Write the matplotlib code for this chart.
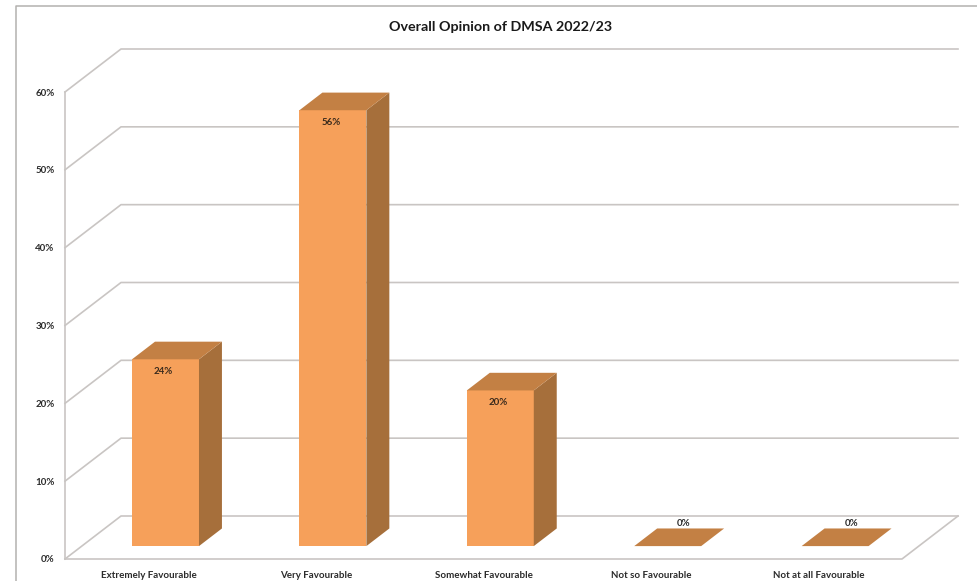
import matplotlib
matplotlib.use("Agg")
from matplotlib import pyplot as plt
from matplotlib.patches import Polygon
from matplotlib.lines import Line2D

categorias = ["Extremely Favourable", "Very Favourable", "Somewhat Favourable",
              "Not so Favourable", "Not at all Favourable"]
valores = [24, 56, 20, 0, 0]
ticks = [0, 10, 20, 30, 40, 50, 60]
titulo = "Overall Opinion of DMSA 2022/23"

W, H = 977, 581
plt.rcParams['font.family'] = ['Lato', 'DejaVu Sans']

# Profundidad del piso, en unidades de cada eje
profX = 56/((902-65)/5)
profY = 43/((559-92)/60)
anchoBarra = 0.40
frenteBarra = 0.30
fondoBarra = 0.71

GRIS = "#c9c5c3"
NARANJA = "#f6a05a"
TAPA = "#c38044"
LADO = "#a66f3b"
TEXTO = "#2b2b2b"

def proyectar(x, y, d):
  return x+d*profX, y+d*profY

figure = plt.figure(figsize=(W/100, H/100), dpi=100, facecolor="white")
axes = figure.add_axes([65/W, 1-559/H, (902-65)/W, (559-92)/H])
axes.set_xlim(0, 5)
axes.set_ylim(0, 60)
axes.patch.set_visible(False)
for lado in axes.spines.values():
  lado.set_visible(False)

# Marco exterior
figure.add_artist(Line2D([16/W, 16/W, 1], [0, 1-5.5/H, 1-5.5/H], color="#b3b1af", lw=1.1))

# Rejilla: diagonal en la pared izquierda y linea horizontal al fondo
for t in ticks:
  p0 = proyectar(0, t, 0)
  p1 = proyectar(0, t, 1)
  p2 = proyectar(5, t, 1)
  axes.plot([p0[0], p1[0], p2[0]], [p0[1], p1[1], p2[1]], color=GRIS, lw=1.2, clip_on=False, zorder=1)

# Piso y eje vertical
p3 = proyectar(5, 0, 1)
axes.plot([0, 5, p3[0]], [0, 0, p3[1]], color=GRIS, lw=1.2, clip_on=False, zorder=1)
axes.plot([0, 0], [0, 60], color=GRIS, lw=1.2, clip_on=False, zorder=1)

# Barras en perspectiva: cara frontal, lado derecho y tapa
for i, v in enumerate(valores):
  izq = i+0.5-anchoBarra/2
  der = i+0.5+anchoBarra/2
  a = proyectar(izq, v, frenteBarra)
  b = proyectar(der, v, frenteBarra)
  c = proyectar(der, v, fondoBarra)
  d = proyectar(izq, v, fondoBarra)
  e = proyectar(der, 0, frenteBarra)
  f = proyectar(der, 0, fondoBarra)
  g = proyectar(izq, 0, frenteBarra)
  if v > 0:
    axes.add_patch(Polygon([g, e, b, a], color=NARANJA, lw=0, zorder=3))
    axes.add_patch(Polygon([e, f, c, b], color=LADO, lw=0, zorder=3))
  axes.add_patch(Polygon([a, b, c, d], color=TAPA, lw=0, zorder=3))
  centro = (a[0]+b[0])/2
  if v > 0:
    axes.annotate(f"{v}%", (centro, a[1]), xytext=(-1.5, -9), textcoords="offset points", ha="center", va="center",
                  fontsize=7, fontweight="bold", color="#3a2a1c", zorder=4)
  else:
    axes.annotate(f"{v}%", ((c[0]+d[0])/2, c[1]), xytext=(-5, 0), textcoords="offset points", ha="center", va="bottom",
                  fontsize=7, fontweight="bold", color=TEXTO, zorder=4)

axes.set_xticks([i+0.5 for i in range(len(categorias))], categorias)
axes.set_yticks(ticks, [f"{t}%" for t in ticks])
axes.tick_params(axis="both", length=0, labelsize=7, labelcolor=TEXTO)
axes.tick_params(axis="x", pad=8.5)
axes.tick_params(axis="y", pad=7.5)
for etiqueta in axes.get_xticklabels()+axes.get_yticklabels():
  etiqueta.set_fontweight("bold")

figure.text(500.5/W, 1-27/H, titulo, ha="center", va="center", fontsize=10.3, fontweight="bold", color="#1a1a1a")

figure.savefig("out.png", dpi=100)
